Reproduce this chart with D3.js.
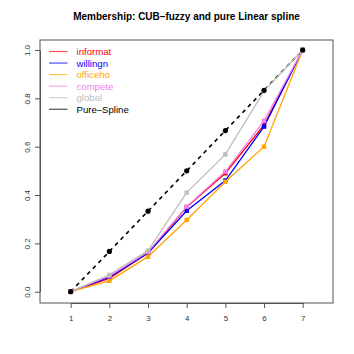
<!DOCTYPE html>
<html>
<head>
<meta charset="utf-8">
<script src="https://cdn.jsdelivr.net/npm/d3@7"></script>
<style>
  body { margin: 0; background: #fff; }
  text { font-family: "Liberation Sans", Arial, sans-serif; }
</style>
</head>
<body>
<div id="chart"></div>
<script>
// membership values by category 1..7
var cats = [1, 2, 3, 4, 5, 6, 7];
var informat = [0, 0.055, 0.16, 0.35, 0.49, 0.69, 1];
var willingn = [0, 0.06, 0.16, 0.335, 0.46, 0.683, 1];
var officeho = [0, 0.045, 0.145, 0.297, 0.455, 0.60, 1];
var compete  = [0, 0.065, 0.165, 0.352, 0.497, 0.707, 1];
var global   = [0, 0.07, 0.17, 0.41, 0.568, 0.83, 1];
var pureSpline = [0, 1/6, 2/6, 3/6, 4/6, 5/6, 1];

var seriesNames  = ["informat", "willingn", "officeho", "compete", "global"];
var seriesColors = ["red", "blue", "orange", "violet", "#bebebe"];
var seriesVals   = [informat, willingn, officeho, compete, global];

var yTicks = [0, 0.2, 0.4, 0.6, 0.8, 1.0];

var W = 354, H = 354;
var box = {l: 40, t: 40, r: 333, b: 303};

var svg = d3.select("#chart").append("svg").attr("width", W).attr("height", H);

// x: 1 -> 70.7, 7 -> 302.7
var xScale = d3.scaleLinear().domain([1, 7]).range([70.7, 302.7]);
var yScale = d3.scaleLinear().domain([0, 1]).range([291.7, 50]);

svg.append("text")
   .attr("x", (box.l + box.r) / 2).attr("y", 20)
   .attr("text-anchor", "middle")
   .attr("font-size", "10px").attr("font-weight", "bold")
   .text("Membership: CUB\u2013fuzzy and pure Linear spline");

var line = d3.line()
    .x(function(d, i) { return xScale(cats[i]); })
    .y(function(d) { return yScale(d); });

// pure spline dashed
svg.append("path").datum(pureSpline)
   .attr("d", line).attr("fill", "none")
   .attr("stroke", "black").attr("stroke-width", 1.6)
   .attr("stroke-dasharray", "4,4");

seriesVals.forEach(function(vals, k) {
    svg.append("path").datum(vals)
       .attr("d", line).attr("fill", "none")
       .attr("stroke", seriesColors[k]).attr("stroke-width", 1.3);
    svg.selectAll(".pt" + k).data(vals).enter().append("rect")
       .attr("x", function(d, i) { return xScale(cats[i]) - 2.2; })
       .attr("y", function(d) { return yScale(d) - 2.2; })
       .attr("width", 4.4).attr("height", 4.4)
       .attr("fill", seriesColors[k]);
});

svg.selectAll(".ps").data(pureSpline).enter().append("circle")
   .attr("cx", function(d, i) { return xScale(cats[i]); })
   .attr("cy", function(d) { return yScale(d); })
   .attr("r", 2.6).attr("fill", "black");

// box
svg.append("rect")
   .attr("x", box.l).attr("y", box.t)
   .attr("width", box.r - box.l).attr("height", box.b - box.t)
   .attr("fill", "none").attr("stroke", "#555").attr("stroke-width", 1);

// x axis
var xAxis = d3.axisBottom(xScale).tickValues(cats).tickFormat(d3.format("d")).tickSize(5).tickSizeOuter(0);
var gx = svg.append("g").attr("transform", "translate(0," + box.b + ")").call(xAxis);
gx.select(".domain").attr("stroke", "#555");
gx.selectAll(".tick line").attr("stroke", "#555");
gx.selectAll(".tick text").attr("font-size", "8px").attr("fill", "#333").attr("dy", "1.3em")
  .style("font-family", "Liberation Sans, Arial, sans-serif");

// y axis
var yAxis = d3.axisLeft(yScale).tickValues(yTicks).tickFormat(d3.format(".1f")).tickSize(5).tickSizeOuter(0);
var gy = svg.append("g").attr("transform", "translate(" + box.l + ",0)").call(yAxis);
gy.select(".domain").attr("stroke", "#555");
gy.selectAll(".tick line").attr("stroke", "#555");
gy.selectAll(".tick text")
  .attr("font-size", "8px").attr("fill", "#333")
  .attr("x", 0).attr("dy", 0)
  .attr("text-anchor", "middle")
  .attr("transform", "translate(-10.5,0) rotate(-90)")
  .style("font-family", "Liberation Sans, Arial, sans-serif");

// legend
var legNames = seriesNames.concat(["Pure\u2013Spline"]);
var legColors = seriesColors.concat(["black"]);
var leg = svg.append("g");
legNames.forEach(function(n, i) {
    var y = 51.5 + i * 11.55;
    leg.append("line").attr("x1", 49).attr("x2", 67.5).attr("y1", y).attr("y2", y)
       .attr("stroke", legColors[i]).attr("stroke-width", 1.2).attr("stroke-opacity", 0.7);
    leg.append("text").attr("x", 76.5).attr("y", y + 3.5)
       .attr("font-size", "9.6px").attr("fill", legColors[i]).text(n);
});
</script>
</body>
</html>
